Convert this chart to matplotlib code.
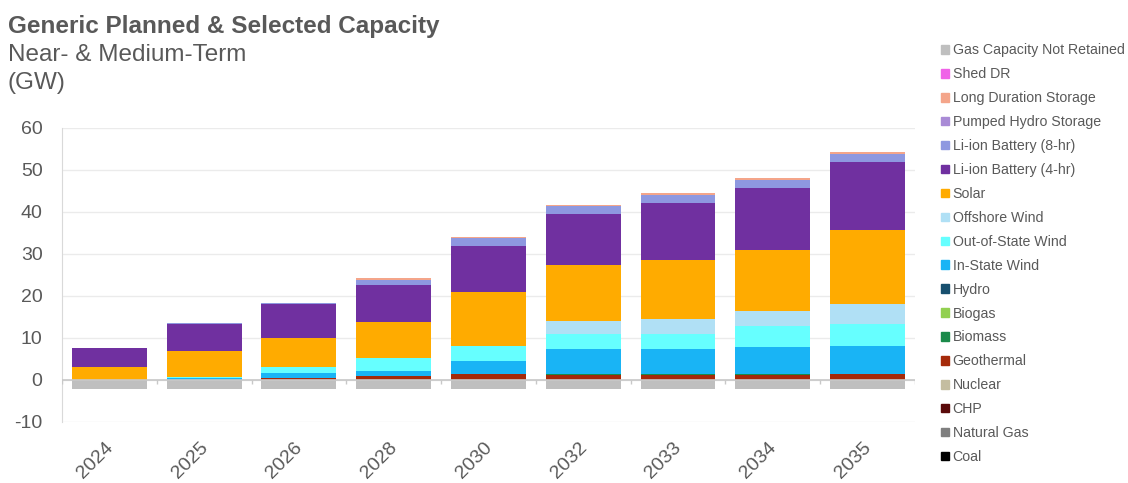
import matplotlib.pyplot as plt
import matplotlib.transforms as mtransforms
import numpy as np
from matplotlib.patches import Patch

plt.rcParams['font.family'] = ['Liberation Sans', 'DejaVu Sans']
plt.rcParams['axes.unicode_minus'] = False

years = ['2024', '2025', '2026', '2028', '2030', '2032', '2033', '2034', '2035']

# GW (bottom of the stack first)
coal = [0, 0, 0, 0, 0, 0, 0, 0, 0]
natural_gas = [0, 0, 0, 0, 0, 0, 0, 0, 0]
chp = [0, 0, 0, 0, 0, 0, 0, 0, 0]
nuclear = [0, 0, 0, 0, 0, 0, 0, 0, 0]
geothermal = [0, 0, 0.55, 1.0, 1.35, 1.3, 1.3, 1.3, 1.4]
biomass = [0, 0, 0, 0, 0.1, 0.1, 0.1, 0.1, 0]
biogas = [0, 0, 0, 0, 0, 0, 0, 0, 0]
hydro = [0, 0, 0, 0, 0, 0, 0, 0, 0]
in_state_wind = [0, 0.5, 1.05, 1.2, 3.15, 5.9, 5.9, 6.4, 6.6]
out_of_state_wind = [0, 0.3, 1.4, 3.0, 3.6, 3.7, 3.7, 5.0, 5.3]
offshore_wind = [0, 0, 0, 0, 0, 3.0, 3.6, 3.7, 4.8]
solar = [3.2, 6.1, 6.9, 8.5, 12.8, 13.3, 13.9, 14.5, 17.5]
li_ion_4hr = [4.3, 6.5, 8.2, 9.0, 10.9, 12.2, 13.7, 14.8, 16.2]
li_ion_8hr = [0.1, 0.1, 0.2, 1.2, 1.8, 1.9, 1.8, 1.9, 2.1]
pumped_hydro = [0, 0, 0, 0, 0, 0, 0, 0, 0]
long_duration = [0, 0, 0.1, 0.4, 0.3, 0.3, 0.5, 0.4, 0.4]
shed_dr = [0, 0, 0, 0, 0, 0, 0, 0, 0]
gas_not_retained = [-2.2, -2.2, -2.2, -2.2, -2.2, -2.2, -2.2, -2.2, -2.2]

stack = [
    ('Coal', coal, '#000000'),
    ('Natural Gas', natural_gas, '#7f7f7f'),
    ('CHP', chp, '#5a0a0a'),
    ('Nuclear', nuclear, '#c4bda0'),
    ('Geothermal', geothermal, '#a52a0a'),
    ('Biomass', biomass, '#1a8a4a'),
    ('Biogas', biogas, '#92d050'),
    ('Hydro', hydro, '#174f6e'),
    ('In-State Wind', in_state_wind, '#19b4f5'),
    ('Out-of-State Wind', out_of_state_wind, '#66ffff'),
    ('Offshore Wind', offshore_wind, '#b0e0f5'),
    ('Solar', solar, '#ffab00'),
    ('Li-ion Battery (4-hr)', li_ion_4hr, '#7030a0'),
    ('Li-ion Battery (8-hr)', li_ion_8hr, '#8e98e0'),
    ('Pumped Hydro Storage', pumped_hydro, '#a98bd6'),
    ('Long Duration Storage', long_duration, '#f4a58a'),
    ('Shed DR', shed_dr, '#f062e8'),
]
gas_color = '#bfbfbf'
txt = '#595959'

fig = plt.figure(figsize=(11.28, 4.83), dpi=100)
ax = fig.add_axes([0.055, 0.1263, 0.756, 0.6087])

x = np.arange(len(years))
w = 0.79
bottom = np.zeros(len(years))
for name, vals, col in stack:
    v = np.array(vals, dtype=float)
    ax.bar(x, v, w, bottom=bottom, color=col, linewidth=0, zorder=2)
    bottom += v
ax.bar(x, gas_not_retained, w, color=gas_color, linewidth=0, zorder=2)

ax.set_xlim(-0.5, len(years) - 0.5)
ax.set_ylim(-10, 60)
ax.set_yticks(range(-10, 61, 10))
ax.yaxis.grid(True, color='#ebebeb', linewidth=1, zorder=0)
ax.set_axisbelow(True)
for s in ['top', 'right', 'bottom']:
    ax.spines[s].set_visible(False)
ax.spines['left'].set_color('#d9d9d9')

# zero axis with category boundary ticks
ax.axhline(0, color='#c8c8c8', linewidth=1.2, zorder=3)
ax.vlines(np.arange(-0.5, len(years)), -1.0, 0, color='#c8c8c8', linewidth=1, zorder=3)

ax.set_xticks(x)
ax.set_xticklabels(years, rotation=45, ha='right', rotation_mode='anchor')
ax.tick_params(axis='x', length=0, pad=12, labelsize=14, labelcolor=txt)
ax.tick_params(axis='y', length=0, pad=14, labelsize=14, labelcolor=txt)
shift = mtransforms.ScaledTranslation(-5 / 100, 0, fig.dpi_scale_trans)
for lab in ax.get_xticklabels():
    lab.set_transform(lab.get_transform() + shift)

fig.text(0.007, 0.932, 'Generic Planned & Selected Capacity', fontsize=17.5,
         fontweight='bold', color=txt, va='baseline')
fig.text(0.007, 0.874, 'Near- & Medium-Term', fontsize=17.5, color=txt, va='baseline')
fig.text(0.007, 0.815, '(GW)', fontsize=17.5, color=txt, va='baseline')

handles = [Patch(color=gas_color, label='Gas Capacity Not Retained')]
for name, vals, col in reversed(stack):
    handles.append(Patch(color=col, label=name))
leg = fig.legend(handles=handles, loc='upper left', bbox_to_anchor=(0.8345, 0.91),
                 frameon=False, fontsize=10.2, handlelength=0.55, handleheight=0.55,
                 handletextpad=0.25, labelspacing=0.7, borderaxespad=0, borderpad=0)
for t in leg.get_texts():
    t.set_color(txt)

fig.savefig('out.png', dpi=100)
